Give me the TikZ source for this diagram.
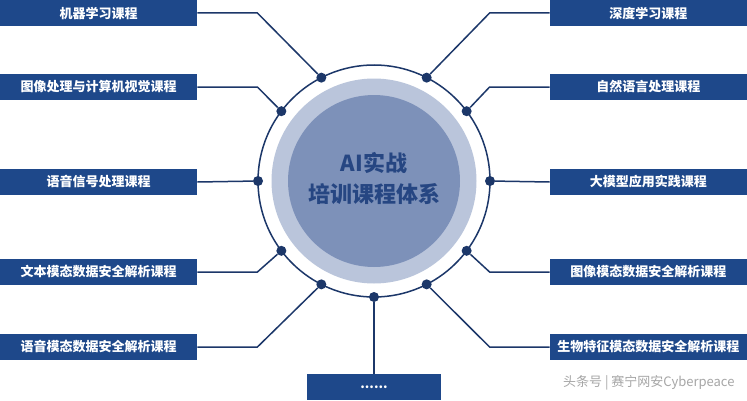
\documentclass[tikz,border=0pt]{standalone}
\usepackage{fontspec}
\newfontfamily\cjk{Noto Sans CJK SC}
\definecolor{boxblue}{RGB}{30,72,138}
\definecolor{linenavy}{RGB}{28,55,105}
\definecolor{ringlight}{RGB}{186,197,219}
\definecolor{ringmid}{RGB}{125,145,185}
\definecolor{titleblue}{RGB}{38,70,130}

\begin{document}
\begin{tikzpicture}[x=1pt,y=1pt,
  course/.style={fill=boxblue,text=white,minimum width=197pt,minimum height=26pt,
    inner sep=0pt,font=\cjk\bfseries\fontsize{13}{15}\selectfont},
  dot/.style={circle,fill=linenavy,minimum size=10pt,inner sep=0pt},
  link/.style={draw=linenavy,line width=1.5pt}]
  \useasboundingbox (0,0) rectangle (747,400);
  \fill[white] (0,0) rectangle (747,400);
  % centre
  \node[circle,fill=ringlight,minimum size=205pt,inner sep=0pt] (core) at (374,219) {};
  \node[circle,fill=ringmid,minimum size=172pt,inner sep=0pt] (hub) at (374,219) {};
  \node[align=center,text=titleblue,font=\cjk\bfseries\fontsize{22}{31}\selectfont]
    (title) at (374,222) {AI实战\\培训课程体系};
  \draw[link] (hub.center) circle (116);
  \foreach \a/\n in {117/l1,143/l2,180/l3,217/l4,243/l5,
                     63/r1,37/r2,0/r3,-37/r4,-63/r5,-90/b}
    \node[dot] (\n) at ([shift={(\a:116)}]hub.center) {};
  % left courses
  \foreach \y/\n/\t in {387/1/机器学习课程,313/2/图像处理与计算机视觉课程,
                        218/3/语音信号处理课程,128/4/文本模态数据安全解析课程,
                        53/5/语音模态数据安全解析课程}
    \node[course,anchor=west] (L\n) at (0,\y) {\t};
  % right courses
  \foreach \y/\n/\t in {387/1/深度学习课程,313/2/自然语言处理课程,
                        218/3/大模型应用实践课程,128/4/图像模态数据安全解析课程,
                        53/5/生物特征模态数据安全解析课程}
    \node[course,anchor=east] (R\n) at (747,\y) {\t};
  \node[course,minimum width=134pt] (B) at (374,13) {......};
  % links
  \foreach \n in {1,2,4,5}{
    \draw[link] (L\n.east) -- ++(60,0) -- (l\n);
    \draw[link] (R\n.west) -- ++(-60,0) -- (r\n);
  }
  \draw[link] (L3.east) -- (l3);
  \draw[link] (R3.west) -- (r3);
  \draw[link] (b) -- (B.north);
  \node[anchor=east,text=black!35,font=\cjk\fontsize{13}{15}\selectfont]
    (mark) at (738,17) {头条号 | 赛宁网安Cyberpeace};
\end{tikzpicture}
\end{document}
